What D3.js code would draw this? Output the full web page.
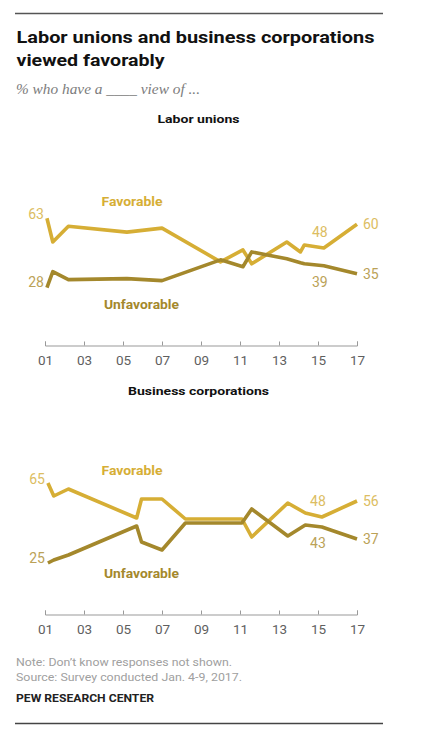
<!DOCTYPE html>
<html lang="en">

<head>
    <meta charset="UTF-8">
    <meta name="viewport" content="width=device-width, initial-scale=1.0">
    <title>Labor unions and business corporations</title>
    <script type="text/javascript" src="https://cdn.jsdelivr.net/npm/d3@7"></script>
    <style>
        body { margin: 0; background: #fff; }
        svg { display: block; }
    </style>
</head>

<body>
    <svg id="chart"></svg>
</body>

<script>
    // survey dates (decimal years) and % values
    var laborYears = [2001.1, 2001.4, 2002.2, 2005.2, 2007.0, 2010.0, 2011.15, 2011.6, 2013.4, 2014.1, 2014.3, 2015.3, 2017.0];
    var laborFav = [63, 51, 59, 56, 58, 41, 47, 40, 51, 46, 49.5, 48, 60];
    var laborUnfav = [28, 36, 32, 32.5, 31.5, 42, 38.5, 46, 42.5, 40.5, 40, 39, 35];

    var bizYears = [2001.15, 2001.45, 2002.2, 2005.7, 2005.95, 2007.0, 2008.2, 2011.1, 2011.6, 2013.45, 2014.35, 2015.2, 2017.0];
    var bizFav = [65, 58.5, 62, 47.5, 57, 57, 47, 47, 38, 55, 50, 48, 56];
    var bizUnfav = [25, 26.5, 29, 43.5, 35.5, 31.5, 45, 45, 52, 38.5, 44, 43, 37];

    var tickYears = [2001, 2003, 2005, 2007, 2009, 2011, 2013, 2015, 2017];

    // labelled points: [index, text]
    var laborFavLabels = [[0, "63"], [11, "48"], [12, "60"]];
    var laborUnfavLabels = [[0, "28"], [11, "39"], [12, "35"]];
    var bizFavLabels = [[0, "65"], [11, "48"], [12, "56"]];
    var bizUnfavLabels = [[0, "25"], [11, "43"], [12, "37"]];

    document.addEventListener("DOMContentLoaded", function () {
        drawChart();
    });

    function drawChart() {
        var width = 425, height = 744;
        var favColor = "#d6ae35", unfavColor = "#a4882c";
        var favText = "#dcbd62", unfavText = "#bba257";

        var svg = d3.select("#chart")
            .attr("width", width)
            .attr("height", height)
            .style("font-family", "Roboto, 'Liberation Sans', sans-serif");

        // rules top and bottom
        svg.append("line").attr("x1", 15).attr("x2", 383).attr("y1", 13.5).attr("y2", 13.5)
            .attr("stroke", "#555").attr("stroke-width", 1.6);
        svg.append("line").attr("x1", 15).attr("x2", 383).attr("y1", 723.5).attr("y2", 723.5)
            .attr("stroke", "#444").attr("stroke-width", 1.4);

        // title
        svg.append("text").attr("x", 16.5).attr("y", 43)
            .attr("textLength", 358).attr("lengthAdjust", "spacingAndGlyphs")
            .style("font-size", "16.5px").style("font-weight", "700").style("fill", "#111")
            .text("Labor unions and business corporations");
        svg.append("text").attr("x", 16.5).attr("y", 66)
            .attr("textLength", 148).attr("lengthAdjust", "spacingAndGlyphs")
            .style("font-size", "16.5px").style("font-weight", "700").style("fill", "#111")
            .text("viewed favorably");
        svg.append("text").attr("x", 16).attr("y", 94)
            .attr("textLength", 184).attr("lengthAdjust", "spacingAndGlyphs")
            .style("font-family", "'Liberation Serif', 'DejaVu Serif', serif")
            .style("font-style", "italic").style("font-size", "14px").style("fill", "#7c7c7c")
            .text("% who have a ____ view of ...");

        var x = d3.scaleLinear().domain([2001, 2017]).range([45, 357]);

        panel({
            title: "Labor unions", titleY: 123, titleW: 82,
            y: d3.scaleLinear().domain([0, 100]).range([343, 145]),
            axisY: 345.5,
            years: laborYears, fav: laborFav, unfav: laborUnfav,
            favLabels: laborFavLabels, unfavLabels: laborUnfavLabels,
            favName: [132, 205.5], unfavName: [141.5, 309]
        });

        panel({
            title: "Business corporations", titleY: 395, titleW: 141,
            y: d3.scaleLinear().domain([0, 100]).range([613, 413]),
            axisY: 614.5,
            years: bizYears, fav: bizFav, unfav: bizUnfav,
            favLabels: bizFavLabels, unfavLabels: bizUnfavLabels,
            favName: [132, 475], unfavName: [141.5, 577.5]
        });

        function panel(p) {
            var g = svg.append("g");

            g.append("text").attr("x", 198.5).attr("y", p.titleY)
                .attr("text-anchor", "middle")
                .attr("textLength", p.titleW).attr("lengthAdjust", "spacingAndGlyphs")
                .style("font-size", "11.5px").style("font-weight", "700").style("fill", "#111")
                .text(p.title);

            // x axis, ticks pointing up
            var axis = d3.axisBottom(x)
                .tickValues(tickYears)
                .tickFormat(d => String(d).slice(2))
                .tickSizeInner(-4)
                .tickSizeOuter(-4)
                .tickPadding(10);
            var ax = g.append("g").attr("transform", "translate(0," + p.axisY + ")").call(axis);
            ax.select(".domain").attr("stroke", "#999");
            ax.selectAll(".tick line").attr("stroke", "#999");
            ax.selectAll(".tick text")
                .style("font-size", "13.5px").style("fill", "#5f5f5f")
                .style("font-family", "Roboto, 'Liberation Sans', sans-serif");

            var line = d3.line()
                .x(d => x(d[0]))
                .y(d => p.y(d[1]));

            var favPts = p.years.map((yr, i) => [yr, p.fav[i]]);
            var unfavPts = p.years.map((yr, i) => [yr, p.unfav[i]]);

            g.append("path").datum(favPts).attr("d", line)
                .attr("fill", "none").attr("stroke", favColor)
                .attr("stroke-width", 3.6).attr("stroke-linejoin", "round");
            g.append("path").datum(unfavPts).attr("d", line)
                .attr("fill", "none").attr("stroke", unfavColor)
                .attr("stroke-width", 3.6).attr("stroke-linejoin", "round");

            // series names
            g.append("text").attr("x", p.favName[0]).attr("y", p.favName[1])
                .attr("text-anchor", "middle")
                .attr("textLength", 61).attr("lengthAdjust", "spacingAndGlyphs")
                .style("font-size", "12.5px").style("font-weight", "700").style("fill", favColor)
                .text("Favorable");
            g.append("text").attr("x", p.unfavName[0]).attr("y", p.unfavName[1])
                .attr("text-anchor", "middle")
                .attr("textLength", 75).attr("lengthAdjust", "spacingAndGlyphs")
                .style("font-size", "12.5px").style("font-weight", "700").style("fill", unfavColor)
                .text("Unfavorable");

            // value labels
            valueLabels(g, p.favLabels, p.years, p.fav, p.y, favText, -1);
            valueLabels(g, p.unfavLabels, p.years, p.unfav, p.y, unfavText, 1);
        }

        function valueLabels(g, labels, years, vals, y, color, side) {
            labels.forEach(function (l, k) {
                var i = l[0];
                var px = x(years[i]), py = y(vals[i]);
                var t = g.append("text").style("font-size", "14px").style("fill", color).text(l[1]);
                if (k === 0) {
                    // start point: label to the left
                    t.attr("x", px - 3).attr("y", py + (side < 0 ? -4 : -5)).attr("text-anchor", "end")
                        .attr("dy", "0.35em");
                } else if (k === labels.length - 1) {
                    t.attr("x", px + 6).attr("y", py).attr("dy", "0.35em");
                } else {
                    t.attr("x", px - 4).attr("y", py + side * 16).attr("text-anchor", "middle")
                        .attr("dy", "0.35em");
                }
            });
        }

        // footer
        svg.append("text").attr("x", 16).attr("y", 665.5)
            .attr("textLength", 216).attr("lengthAdjust", "spacingAndGlyphs")
            .style("font-size", "11px").style("fill", "#a0a0a0")
            .text("Note: Don\u2019t know responses not shown.");
        svg.append("text").attr("x", 16).attr("y", 681)
            .attr("textLength", 226).attr("lengthAdjust", "spacingAndGlyphs")
            .style("font-size", "11px").style("fill", "#a0a0a0")
            .text("Source: Survey conducted Jan. 4-9, 2017.");
        svg.append("text").attr("x", 16).attr("y", 701.5)
            .attr("textLength", 138).attr("lengthAdjust", "spacingAndGlyphs")
            .style("font-size", "10.5px").style("font-weight", "700").style("fill", "#222")
            .text("PEW RESEARCH CENTER");
    }
</script>

</html>
